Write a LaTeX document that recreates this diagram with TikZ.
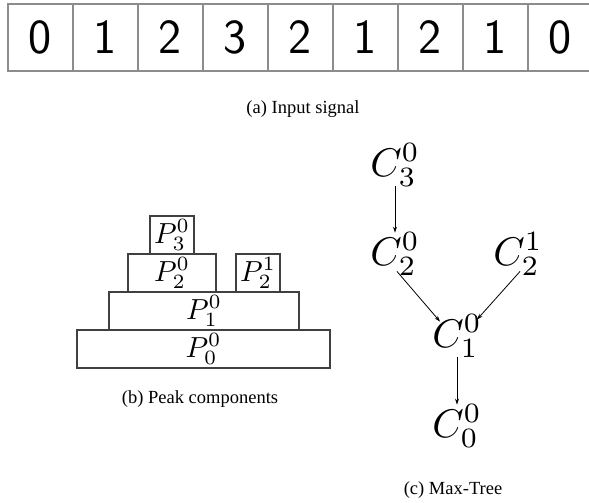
\documentclass[tikz,border=0pt]{standalone}
\usepackage{fontspec}
\usepackage{graphicx}
\newfontfamily\capfont{Liberation Serif}
\usetikzlibrary{arrows.meta,calc}
\newcommand{\pmath}[1]{\scalebox{2.9}{$#1$}}
\newcommand{\cmath}[1]{\scalebox{4.0}{$#1$}}
\begin{document}
\begin{tikzpicture}[x=1pt,y=-1pt,
  cell/.style={draw=black!45, line width=1.4pt, minimum width=65pt, minimum height=67pt, inner sep=0pt, font=\fontsize{49}{49}\selectfont\sffamily},
  peak/.style={draw=black!75, line width=1.1pt, minimum height=38pt, inner sep=0pt},
  tnode/.style={inner sep=0pt},
  arr/.style={-{Stealth[length=6pt,width=4pt]}, line width=0.8pt},
  captext/.style={font=\capfont\fontsize{18.5}{20}\selectfont, anchor=base}]
\useasboundingbox (0,0) rectangle (589,503);
\fill[white] (0,0) rectangle (589,503);
% (a) input signal
\foreach \v [count=\i] in {0,1,2,3,2,1,2,1,0}
  \node[cell] (s\i) at ({40.5+65*(\i-1)},37.5) {\v};
\node[captext] (capa) at (303,113) {(a) Input signal};
% (b) peak components
\node[peak, minimum width=44pt] (p30) at (172,235) {\pmath{P^0_3}};
\node[peak, minimum width=88pt] (p20) at (172,273) {\pmath{P^0_2}};
\node[peak, minimum width=44pt] (p21) at (258,273) {\pmath{P^1_2}};
\node[peak, minimum width=190pt] (p10) at (204,311) {\pmath{P^0_1}};
\node[peak, minimum width=253pt] (p00) at (203.5,349) {\pmath{P^0_0}};
\node[captext] (capb) at (200,403) {(b) Peak components};
% (c) max-tree
\node[tnode] (c30) at (395,165) {\cmath{C^0_3}};
\node[tnode] (c20) at (395,254) {\cmath{C^0_2}};
\node[tnode] (c21) at (518,254) {\cmath{C^1_2}};
\node[tnode] (c10) at (457,336) {\cmath{C^0_1}};
\node[tnode] (c00) at (457,426) {\cmath{C^0_0}};
\draw[arr] (c30.south) -- (c20.north);
\draw[arr] ([shift={(2,-4)}]c20.south) -- ([shift={(-17,7)}]c10.north);
\draw[arr] ([shift={(2,-4)}]c21.south) -- ([shift={(20,5)}]c10.north);
\draw[arr] (c10.south) -- (c00.north);
\node[captext] (capc) at (453,494) {(c) Max-Tree};
\end{tikzpicture}
\end{document}
